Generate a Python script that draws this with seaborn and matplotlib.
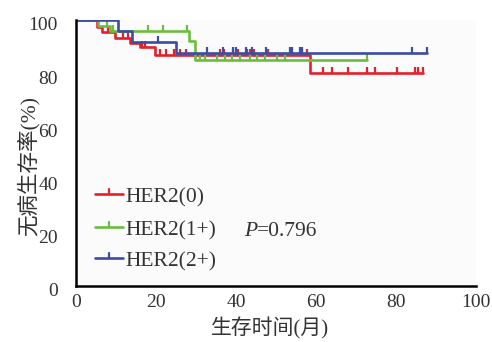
import numpy as np
import pandas as pd
import matplotlib
matplotlib.use("Agg")
import matplotlib.pyplot as plt
import matplotlib.transforms as mtransforms
from matplotlib.lines import Line2D
import seaborn as sns

# Kaplan-Meier step data (months, % disease-free survival)
groups = ["HER2(0)", "HER2(1+)", "HER2(2+)"]
colors = ["#e5202b", "#6cbd3e", "#3b4ea0"]

red_event_t = [5.3, 6.4, 9.8, 13.5, 16.0, 19.8, 58.5]
red_surv = [97.5, 95.6, 93.1, 91.2, 90.0, 86.8, 80.2]
red_censor_t = [1.5, 3, 4, 8, 11.8, 13, 16.4, 17.2, 21, 22.5, 24.5, 26, 27.5,
                36, 37, 39.3, 40.5, 42.7, 43.5, 44.5, 48, 56.5, 57.8,
                61.8, 63.9, 68.1, 72.7, 74.8, 80.2, 84.8, 85.6, 86.8]

green_event_t = [5.5, 8.5, 28.2, 29.8]
green_surv = [97.8, 96.0, 92.2, 85.0]
green_censor_t = [2, 3, 7.7, 9.3, 18, 21.8, 27.7, 31, 32.2, 35.2, 37.2, 39,
                  41, 43.5, 45.2, 47.2, 50.2, 52.2, 72.7]

blue_event_t = [10.5, 14.0, 25.0]
blue_surv = [96.0, 91.8, 87.5]
blue_censor_t = [2, 3, 4, 9, 20.5, 32.7, 36.8, 39.2, 40.1, 42.5, 44, 47.5,
                 53.5, 54, 56, 56.5, 84, 87.7]

x_ticks = [0, 20, 40, 60, 80, 100]
y_ticks = [0, 20, 40, 60, 80, 100]
p_text = "=0.796"

series = [
    (red_event_t, red_surv, red_censor_t),
    (green_event_t, green_surv, green_censor_t),
    (blue_event_t, blue_surv, blue_censor_t),
]

sns.set_style("white")
plt.rcParams["font.family"] = ["Liberation Serif", "Noto Sans CJK SC"]
text_color = "#333333"

W, H = 492, 342
fig = plt.figure(figsize=(W / 100, H / 100), dpi=100)
ax = fig.add_axes([76 / W, 1 - 286 / H, 400 / W, 266 / H])
ax.set_facecolor("#fbfbfb")


def step_value(t_events, s_events, t):
    idx = np.searchsorted(np.asarray(t_events), t, side="right")
    vals = np.concatenate([[100.0], s_events])
    return vals[idx]


for name, color, (et, sv, ct) in zip(groups, colors, series):
    t_end = max(max(ct), max(et))
    times = [0.0] + list(et) + [t_end]
    surv = [100.0] + list(sv) + [sv[-1]]
    df = pd.DataFrame({"t": times, "s": surv})
    sns.lineplot(data=df, x="t", y="s", ax=ax, color=color, lw=1.9,
                 drawstyle="steps-post", estimator=None, sort=False)
    cdf = pd.DataFrame({"t": ct, "s": step_value(et, sv, np.asarray(ct))})
    ax.plot(cdf["t"], cdf["s"], ls="none", marker=[(0, 0), (0, 1)],
            ms=8, mew=1.6, color=color)

ax.set_xlim(0, 100)
ax.set_ylim(0, 100)
ax.set_xlabel("")
ax.set_ylabel("")

for s in ["top", "right"]:
    ax.spines[s].set_visible(False)
for s in ["left", "bottom"]:
    ax.spines[s].set_color("black")
    ax.spines[s].set_linewidth(1.8)

ax.set_xticks(x_ticks)
ax.set_xticks(np.arange(10, 100, 20), minor=True)
ax.set_yticks(y_ticks)
ax.set_yticks([25, 50, 75], minor=True)
ax.tick_params(axis="x", which="major", direction="in", length=7, width=1.8,
               color="black", labelsize=14, labelcolor=text_color, pad=6)
ax.tick_params(axis="x", which="minor", direction="in", length=4, width=1.8,
               color="black")
ax.tick_params(axis="y", which="major", length=0, labelsize=14,
               labelcolor=text_color, pad=13)
ax.tick_params(axis="y", which="minor", direction="in", length=6, width=1.8,
               color="black")
offset = mtransforms.ScaledTranslation(0, -4 / 100, fig.dpi_scale_trans)
for lab in ax.get_yticklabels():
    lab.set_transform(lab.get_transform() + offset)

fig.text(270 / W, 1 - 328 / H, "生存时间(月)", ha="center", va="center",
         fontsize=15, color=text_color)
fig.text(28 / W, 1 - 166 / H, "无病生存率(%)", ha="center", va="center",
         rotation=90, fontsize=15.5, color=text_color)

# legend drawn by hand: short line with an upward censor tick
rows_y = [194, 227, 258]
for name, color, y in zip(groups, colors, rows_y):
    yf = 1 - y / H
    fig.add_artist(Line2D([95 / W, 123 / W], [yf, yf], color=color, lw=1.9))
    fig.add_artist(Line2D([109 / W, 109 / W], [yf, yf + 5 / H], color=color,
                          lw=1.6))
    fig.text(125 / W, 1 - (y + 4) / H, name, ha="left", va="center",
             fontsize=15.5, color=text_color)

fig.text(244 / W, 1 - 231 / H, "P", style="italic", ha="left", va="center",
         fontsize=15.5, color=text_color)
fig.text(257 / W, 1 - 231 / H, p_text, ha="left", va="center",
         fontsize=15.5, color=text_color)

fig.savefig("out.png", dpi=100)
